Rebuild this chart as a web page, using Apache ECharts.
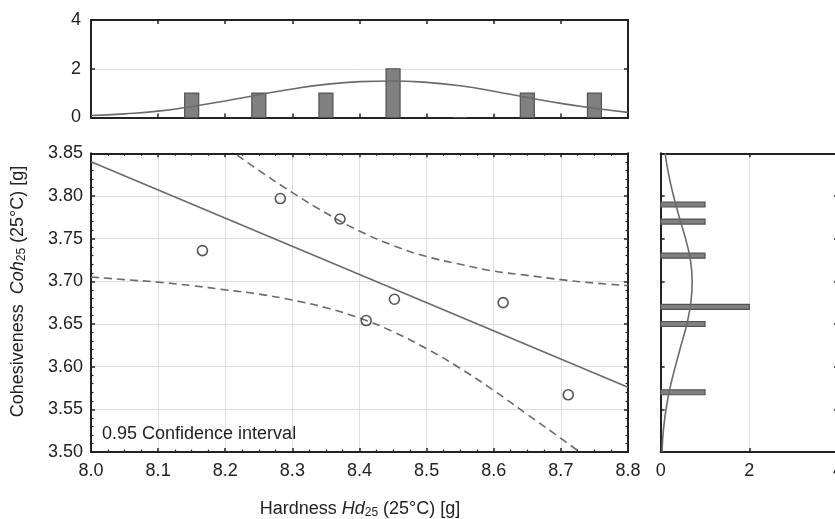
<!DOCTYPE html>
<html><head><meta charset="utf-8">
<script src="https://cdn.jsdelivr.net/npm/echarts@6/dist/echarts.min.js"></script>
<style>html,body{margin:0;padding:0;overflow:hidden;background:#fff}#c{width:840px;height:519px}</style>
</head><body><div id="c"></div>
<script>
// ---- data ----
const hardness = [8.166, 8.282, 8.371, 8.410, 8.452, 8.614, 8.711];
const cohesiveness = [3.736, 3.797, 3.773, 3.654, 3.679, 3.675, 3.567];
const fitX = [8.0, 8.8];
const fitY = [3.840, 3.576];
const bandX = [8.00, 8.05, 8.10, 8.15, 8.20, 8.25, 8.30, 8.35, 8.40, 8.45, 8.50, 8.55, 8.60, 8.65, 8.70, 8.75, 8.80];
const bandUpper = [3.975, 3.945, 3.916, 3.886, 3.858, 3.830, 3.804, 3.780, 3.759, 3.742, 3.729, 3.720, 3.712, 3.707, 3.702, 3.698, 3.695];
const bandLower = [3.705, 3.702, 3.699, 3.695, 3.690, 3.685, 3.678, 3.669, 3.657, 3.641, 3.621, 3.598, 3.572, 3.544, 3.516, 3.487, 3.457];
const hdBins = [8.15, 8.25, 8.35, 8.45, 8.55, 8.65, 8.75];
const hdCounts = [1, 1, 1, 2, 0, 1, 1];
const hdCurveX = [8.00, 8.05, 8.10, 8.15, 8.20, 8.25, 8.30, 8.35, 8.40, 8.45, 8.50, 8.55, 8.60, 8.65, 8.70, 8.75, 8.80];
const hdCurveY = [0.08, 0.15, 0.26, 0.45, 0.68, 0.93, 1.17, 1.36, 1.47, 1.50, 1.44, 1.30, 1.08, 0.82, 0.58, 0.38, 0.21];
const cohBins = [3.79, 3.77, 3.73, 3.67, 3.65, 3.57];
const cohCounts = [1, 1, 1, 2, 1, 1];
const cohCurveY = [3.500, 3.525, 3.550, 3.575, 3.600, 3.625, 3.650, 3.675, 3.700, 3.725, 3.750, 3.775, 3.800, 3.825, 3.850];
const cohCurveX = [0.03, 0.06, 0.12, 0.21, 0.33, 0.46, 0.59, 0.68, 0.71, 0.67, 0.56, 0.42, 0.29, 0.18, 0.10];
const xTickFmt = v => v.toFixed(1);
const yTickFmt = v => v.toFixed(2);

// ---- styling ----
const FONT = "'Liberation Sans', Arial, Helvetica, sans-serif";
const INK = '#222';
const CURVE = '#6a6a6a';
const GRIDC = '#dedede';

function ax(o) {
  return Object.assign({
    type: 'value',
    axisLine: { show: true, onZero: false, lineStyle: { color: INK, width: 2 } },
    axisTick: { show: true, inside: true, length: 4, lineStyle: { color: INK, width: 1.5 } },
    axisLabel: { show: false, color: INK, fontSize: 18, fontFamily: FONT },
    splitLine: { show: false, lineStyle: { color: GRIDC, width: 1 } },
    minorTick: { show: false }
  }, o);
}

const chart = echarts.init(document.getElementById('c'), null, { renderer: 'canvas' });

const xAxes = [
  ax({ gridIndex: 0, position: 'bottom', min: 8.0, max: 8.8, interval: 0.1 }),
  ax({ gridIndex: 0, position: 'top', min: 8.0, max: 8.8, interval: 0.1 }),
  ax({ gridIndex: 1, position: 'bottom', min: 8.0, max: 8.8, interval: 0.1,
       axisLabel: { show: true, color: INK, fontSize: 18, fontFamily: FONT, margin: 10, formatter: xTickFmt },
       splitLine: { show: true, lineStyle: { color: GRIDC, width: 1 } },
       minorTick: { show: true, splitNumber: 4, length: 2.5, lineStyle: { color: INK, width: 1.2 } } }),
  ax({ gridIndex: 1, position: 'top', min: 8.0, max: 8.8, interval: 0.1,
       minorTick: { show: true, splitNumber: 4, length: 2.5, lineStyle: { color: INK, width: 1.2 } } }),
  ax({ gridIndex: 2, position: 'bottom', min: 0, max: 4, interval: 2,
       axisLabel: { show: true, color: INK, fontSize: 18, fontFamily: FONT, margin: 10 },
       splitLine: { show: true, lineStyle: { color: GRIDC, width: 1 } } }),
  ax({ gridIndex: 2, position: 'top', min: 0, max: 4, interval: 2 })
];
const yAxes = [
  ax({ gridIndex: 0, position: 'left', min: 0, max: 4, interval: 2,
       axisLabel: { show: true, color: INK, fontSize: 18, fontFamily: FONT, margin: 10 },
       splitLine: { show: true, lineStyle: { color: GRIDC, width: 1 } } }),
  ax({ gridIndex: 0, position: 'right', min: 0, max: 4, interval: 2 }),
  ax({ gridIndex: 1, position: 'left', min: 3.5, max: 3.85, interval: 0.05,
       axisLabel: { show: true, color: INK, fontSize: 18, fontFamily: FONT, margin: 8, formatter: yTickFmt },
       splitLine: { show: true, lineStyle: { color: GRIDC, width: 1 } },
       minorTick: { show: true, splitNumber: 5, length: 2.5, lineStyle: { color: INK, width: 1.2 } } }),
  ax({ gridIndex: 1, position: 'right', min: 3.5, max: 3.85, interval: 0.05,
       minorTick: { show: true, splitNumber: 5, length: 2.5, lineStyle: { color: INK, width: 1.2 } } }),
  ax({ gridIndex: 2, position: 'left', min: 3.5, max: 3.85, interval: 0.05 }),
  ax({ gridIndex: 2, position: 'right', min: 3.5, max: 3.85, interval: 0.05 })
];

const pair = (a, b) => a.map((v, i) => [v, b[i]]);

const option = {
  animation: false,
  backgroundColor: '#fff',
  textStyle: { fontFamily: FONT },
  grid: [
    { left: 91, top: 20, width: 537, height: 97.5, outerBoundsMode: 'none', containLabel: false },
    { left: 91, top: 153.3, width: 537, height: 298.7, outerBoundsMode: 'none', containLabel: false },
    { left: 660.7, top: 153.3, width: 177.2, height: 298.7, outerBoundsMode: 'none', containLabel: false }
  ],
  xAxis: xAxes,
  yAxis: yAxes,
  series: [
    { type: 'custom', xAxisIndex: 0, yAxisIndex: 0, z: 2,
      data: pair(hdBins, hdCounts),
      renderItem: (params, api) => {
        const p0 = api.coord([api.value(0), 0]);
        const p1 = api.coord([api.value(0), api.value(1)]);
        return { type: 'rect', shape: { x: p0[0] - 7, y: p1[1], width: 14, height: p0[1] - p1[1] },
                 style: { fill: '#808080', stroke: '#505050', lineWidth: 1.2 } };
      } },
    { type: 'line', xAxisIndex: 0, yAxisIndex: 0, z: 3, smooth: true, symbol: 'none',
      data: pair(hdCurveX, hdCurveY), lineStyle: { color: CURVE, width: 1.6 } },
    { type: 'line', xAxisIndex: 2, yAxisIndex: 2, z: 3, symbol: 'none',
      data: pair(fitX, fitY), lineStyle: { color: CURVE, width: 1.6 } },
    { type: 'line', xAxisIndex: 2, yAxisIndex: 2, z: 3, symbol: 'none', smooth: true, clip: true,
      data: pair(bandX, bandUpper), lineStyle: { color: CURVE, width: 1.6, type: [8, 5] } },
    { type: 'line', xAxisIndex: 2, yAxisIndex: 2, z: 3, symbol: 'none', smooth: true, clip: true,
      data: pair(bandX, bandLower), lineStyle: { color: CURVE, width: 1.6, type: [8, 5] } },
    { type: 'scatter', xAxisIndex: 2, yAxisIndex: 2, z: 4, symbol: 'circle', symbolSize: 10,
      data: pair(hardness, cohesiveness),
      itemStyle: { color: 'rgba(255,255,255,0)', borderColor: '#2a2a2a', borderWidth: 1.6 } },
    { type: 'custom', xAxisIndex: 4, yAxisIndex: 4, z: 2,
      data: pair(cohCounts, cohBins),
      renderItem: (params, api) => {
        const p0 = api.coord([0, api.value(1)]);
        const p1 = api.coord([api.value(0), api.value(1)]);
        return { type: 'rect', shape: { x: p0[0], y: p0[1] - 2.5, width: p1[0] - p0[0], height: 5 },
                 style: { fill: '#808080', stroke: '#505050', lineWidth: 1.2 } };
      } },
    { type: 'line', xAxisIndex: 4, yAxisIndex: 4, z: 3, smooth: true, symbol: 'none',
      data: pair(cohCurveX, cohCurveY), lineStyle: { color: CURVE, width: 1.6 } }
  ],
  graphic: [
    { type: 'text', x: 18, y: 291.5, rotation: Math.PI / 2, z: 10,
      style: {
        text: '{a|Cohesiveness  }{i|Coh}{s|25}{a| (25°C) [g]}',
        align: 'center', verticalAlign: 'middle', fill: INK,
        rich: {
          a: { fontSize: 18, fontFamily: FONT, fill: INK },
          i: { fontSize: 18, fontFamily: FONT, fontStyle: 'italic', fill: INK },
          s: { fontSize: 12, fontFamily: FONT, fill: INK, padding: [8, 0, 0, 0] }
        }
      } },
    { type: 'text', x: 360, y: 509, z: 10,
      style: {
        text: '{a|Hardness }{i|Hd}{s|25}{a| (25°C) [g]}',
        align: 'center', verticalAlign: 'middle', fill: INK,
        rich: {
          a: { fontSize: 18, fontFamily: FONT, fill: INK },
          i: { fontSize: 18, fontFamily: FONT, fontStyle: 'italic', fill: INK },
          s: { fontSize: 12, fontFamily: FONT, fill: INK, padding: [8, 0, 0, 0] }
        }
      } },
    { type: 'text', x: 102, y: 434, z: 10,
      style: { text: '0.95 Confidence interval', fontSize: 18, fontFamily: FONT, fill: INK,
               align: 'left', verticalAlign: 'middle' } }
  ]
};
chart.setOption(option);
</script>
</body></html>
